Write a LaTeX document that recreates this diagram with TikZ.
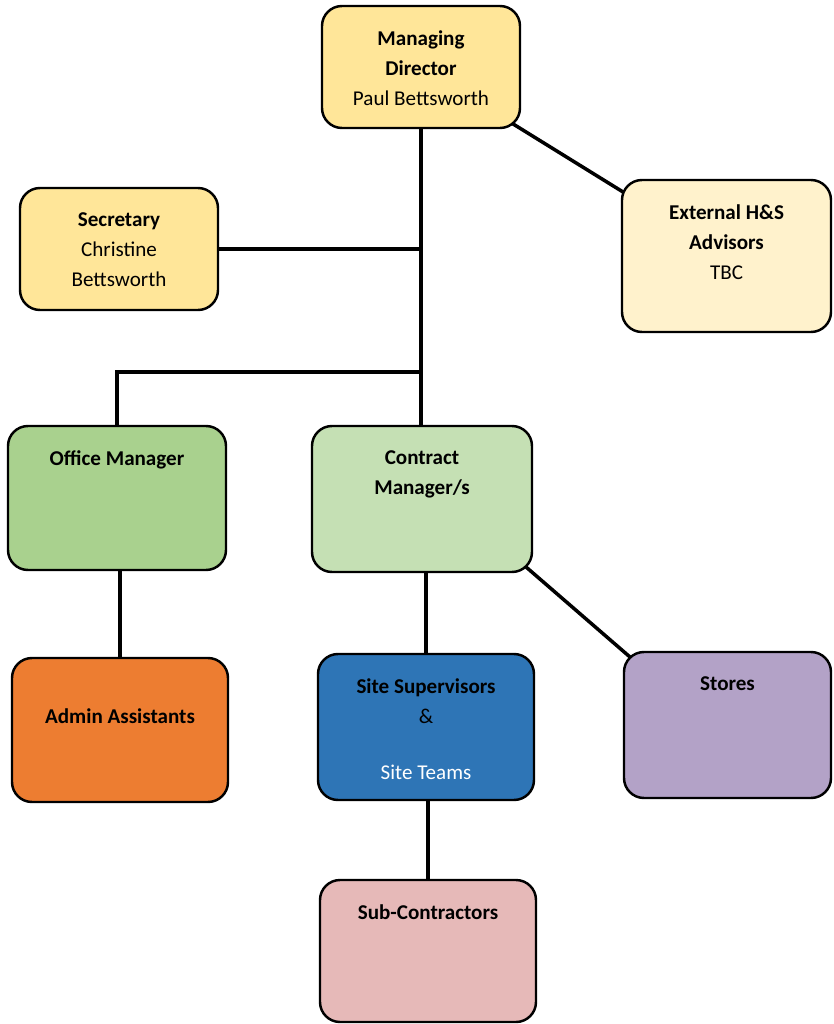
\documentclass[tikz,border=0pt]{standalone}
\usepackage{fontspec}
\setmainfont{Carlito}
\usepackage{tikz}
\usetikzlibrary{backgrounds}

\definecolor{mdyellow}{HTML}{FFE699}
\definecolor{extyellow}{HTML}{FFF2CC}
\definecolor{omgreen}{HTML}{A9D18E}
\definecolor{cmgreen}{HTML}{C5E0B4}
\definecolor{aaorange}{HTML}{ED7D31}
\definecolor{ssblue}{HTML}{2E75B6}
\definecolor{stpurple}{HTML}{B3A2C7}
\definecolor{scpink}{HTML}{E6B9B8}

\newlength\unitpx
\setlength\unitpx{0.02cm}
\newcommand{\boxtext}[3]{\parbox[c][#2\unitpx][t]{#1\unitpx}{\centering\fontsize{12}{17}\selectfont\vspace*{14pt}#3}}

\begin{document}
\begin{tikzpicture}[x=0.02cm,y=-0.02cm]
  \tikzset{orgbox/.style = {draw, rounded corners=0.4cm, line width=1.4pt, inner sep=0pt}}
  \tikzset{link/.style = {line width=2pt}}

  \useasboundingbox (0,0) rectangle (833,1024);

	\node[orgbox, fill=mdyellow] (md) at (421,67) {\boxtext{198}{122}{\textbf{Managing}\\\textbf{Director}\\Paul Bettsworth}};
	\node[orgbox, fill=mdyellow] (sec) at (119,249) {\boxtext{198}{122}{\textbf{Secretary}\\Christine\\Bettsworth}};
	\node[orgbox, fill=extyellow] (ext) at (726.5,256) {\boxtext{209}{152}{\textbf{External H\&S}\\\textbf{Advisors}\\TBC}};

	\node[orgbox, fill=omgreen] (om) at (117,498) {\boxtext{218}{144}{\textbf{Office Manager}}};
	\node[orgbox, fill=cmgreen] (cm) at (422,499) {\boxtext{220}{146}{\textbf{Contract}\\\textbf{Manager/s}}};

	\node[orgbox, fill=aaorange] (aa) at (120,730) {\boxtext{216}{144}{\vspace*{14.8pt}\textbf{Admin Assistants}}};
	\node[orgbox, fill=ssblue] (ss) at (426,727) {\boxtext{216}{146}{\textbf{Site Supervisors}\\\&\\[14.8pt]\textcolor{white}{Site Teams}}};
	\node[orgbox, fill=stpurple] (st) at (727.5,725) {\boxtext{207}{146}{\textbf{Stores}}};

	\node[orgbox, fill=scpink] (sc) at (428,951) {\boxtext{216}{142}{\textbf{Sub-Contractors}}};

	\coordinate (jo) at (421,372);

	\begin{scope}[on background layer]
	% main spine
	\draw[link] (md.south) -- (md.south |- cm.north);
	\draw[link] (sec.east) -- (sec.east -| md.south);
	\draw[link] (om.north) |- (jo);
	% side links, ends hidden under the boxes
	\draw[link] (md.center) -- (ext.center);
	\draw[link, shorten <=-12pt, shorten >=-12pt] (cm.south east) -- (st.north west);

	\foreach \from/\to in {om/aa, cm/ss, ss/sc}
	\draw[link] (\to.north |- \from.south) -- (\to.north);
	\end{scope}

\end{tikzpicture}
\end{document}
